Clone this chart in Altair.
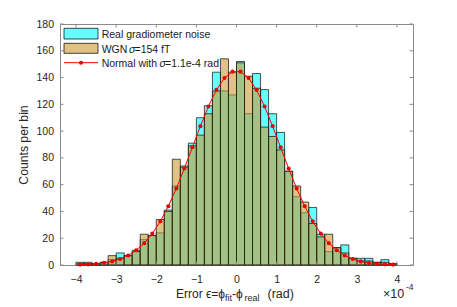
import altair as alt
import pandas as pd

# ---- data (x in units of 1e-4 rad) ----
bin_start = [-4.0, -3.8, -3.6, -3.4, -3.2, -3.0, -2.8, -2.6, -2.4, -2.2,
             -2.0, -1.8, -1.6, -1.4, -1.2, -1.0, -0.8, -0.6, -0.4, -0.2,
             0.0, 0.2, 0.4, 0.6, 0.8, 1.0, 1.2, 1.4, 1.6, 1.8,
             2.0, 2.2, 2.4, 2.6, 2.8, 3.0, 3.2, 3.4, 3.6, 3.8]
bin_end = [-3.8, -3.6, -3.4, -3.2, -3.0, -2.8, -2.6, -2.4, -2.2, -2.0,
           -1.8, -1.6, -1.4, -1.2, -1.0, -0.8, -0.6, -0.4, -0.2, 0.0,
           0.2, 0.4, 0.6, 0.8, 1.0, 1.2, 1.4, 1.6, 1.8, 2.0,
           2.2, 2.4, 2.6, 2.8, 3.0, 3.2, 3.4, 3.6, 3.8, 4.0]
real_counts = [2, 2, 1, 2, 4, 9, 7, 11, 19, 22,
               24, 41, 59, 74, 91, 110, 119, 144, 130, 127,
               152, 113, 143, 131, 113, 99, 70, 51, 39, 43,
               23, 10, 13, 15, 5, 5, 5, 2, 4, 1]
wgn_counts = [1, 1, 1, 2, 7, 5, 7, 10, 23, 22,
              34, 40, 79, 73, 89, 97, 113, 130, 154, 144,
              151, 141, 132, 103, 96, 86, 70, 59, 47, 31,
              21, 23, 13, 9, 5, 3, 3, 2, 2, 1]
fit_x = [-3.9, -3.7, -3.5, -3.3, -3.1, -2.9, -2.7, -2.5, -2.3, -2.1,
         -1.9, -1.7, -1.5, -1.3, -1.1, -0.9, -0.7, -0.5, -0.3, -0.1,
         0.1, 0.3, 0.5, 0.7, 0.9, 1.1, 1.3, 1.5, 1.7, 1.9,
         2.1, 2.3, 2.5, 2.7, 2.9, 3.1, 3.3, 3.5, 3.7, 3.9]
fit_y = [0.3, 0.5, 0.9, 1.6, 2.7, 4.5, 7.1, 11.0, 16.3, 23.4,
         32.6, 43.9, 57.2, 72.1, 87.9, 103.7, 118.4, 130.8, 139.7, 144.4,
         144.4, 139.7, 130.8, 118.4, 103.7, 87.9, 72.1, 57.2, 43.9, 32.6,
         23.4, 16.3, 11.0, 7.1, 4.5, 2.7, 1.6, 0.9, 0.5, 0.3]
x_ticks = [-4, -3, -2, -1, 0, 1, 2, 3, 4]
y_ticks = [0, 20, 40, 60, 80, 100, 120, 140, 160, 180]

W, H = 353, 241
FONT = "Liberation Sans"
TXT = "#262626"
FRAME = "#8a8a8a"
CYAN = "#00ffff"
TAN = "#cc9933"
EDGE = "#1a1a1a"

bars = pd.DataFrame({"start": bin_start, "end": bin_end,
                     "real": real_counts, "wgn": wgn_counts})
fit = pd.DataFrame({"x": fit_x, "y": fit_y})
xt = pd.DataFrame({"v": x_ticks})
yt = pd.DataFrame({"v": y_ticks})
one = pd.DataFrame({"k": [0]})

xs = alt.Scale(domain=[-4.4, 4.4], nice=False, zero=False)
ys = alt.Scale(domain=[0, 180], nice=False)

xaxis = alt.Axis(values=x_ticks, title=None, labelPadding=9)
yaxis = alt.Axis(values=y_ticks, title="Counts per bin", labelPadding=6.5,
                 titleFontSize=12.2, titlePadding=5)

real_layer = alt.Chart(bars).mark_rect(
    fill=CYAN, fillOpacity=0.6, stroke=EDGE, strokeOpacity=0.75, strokeWidth=1
).encode(
    x=alt.X("start:Q", scale=xs, axis=xaxis), x2="end:Q",
    y=alt.Y("real:Q", scale=ys, axis=yaxis), y2=alt.datum(0),
)
wgn_layer = alt.Chart(bars).mark_rect(
    fill=TAN, fillOpacity=0.6, stroke=EDGE, strokeOpacity=0.75, strokeWidth=1
).encode(
    x=alt.X("start:Q", scale=xs, axis=xaxis), x2="end:Q",
    y=alt.Y("wgn:Q", scale=ys, axis=yaxis), y2=alt.datum(0),
)
fit_line = alt.Chart(fit).mark_line(color="#ff0000", strokeWidth=1).encode(
    x=alt.X("x:Q", scale=xs, axis=xaxis), y=alt.Y("y:Q", scale=ys, axis=yaxis))
fit_pts = alt.Chart(fit).mark_circle(color="#ee0000", opacity=1, size=17).encode(
    x=alt.X("x:Q", scale=xs, axis=xaxis), y=alt.Y("y:Q", scale=ys, axis=yaxis))

TL = 3.5
tick_layers = [
    alt.Chart(xt).mark_rule(color=FRAME, strokeWidth=1).encode(
        x=alt.X("v:Q", scale=xs, axis=xaxis), y=alt.value(H), y2=alt.value(H - TL)),
    alt.Chart(xt).mark_rule(color=FRAME, strokeWidth=1).encode(
        x=alt.X("v:Q", scale=xs, axis=xaxis), y=alt.value(0), y2=alt.value(TL)),
    alt.Chart(yt).mark_rule(color=FRAME, strokeWidth=1).encode(
        y=alt.Y("v:Q", scale=ys, axis=yaxis), x=alt.value(0), x2=alt.value(TL)),
    alt.Chart(yt).mark_rule(color=FRAME, strokeWidth=1).encode(
        y=alt.Y("v:Q", scale=ys, axis=yaxis), x=alt.value(W), x2=alt.value(W - TL)),
]

# ---- legend ----
def patch(color, y0, y1):
    return alt.Chart(one).mark_rect(fill=color, fillOpacity=0.6, stroke=EDGE,
                                    strokeOpacity=0.8, strokeWidth=1).encode(
        x=alt.value(4), x2=alt.value(38), y=alt.value(y0), y2=alt.value(y1))

def txt(s, x, y, size=10.3, italic=False, align="left", color="#1a1a1a"):
    kw = dict(font=FONT, fontSize=size, color=color, align=align,
              baseline="alphabetic", text=s)
    if italic:
        kw["fontStyle"] = "italic"
    return alt.Chart(one).mark_text(**kw).encode(x=alt.value(x), y=alt.value(y))

legend = [
    patch(CYAN, 4.3, 15),
    patch(TAN, 19.3, 29.3),
    alt.Chart(one).mark_rule(color="#ff0000", strokeWidth=1).encode(
        x=alt.value(4), x2=alt.value(38), y=alt.value(38.7)),
    alt.Chart(one).mark_circle(color="#ee0000", opacity=1, size=17).encode(
        x=alt.value(21), y=alt.value(38.7)),
    txt("Real gradiometer noise", 41.7, 13.7, size=10.5),
    txt("WGN", 41.7, 28.7, size=10.5),
    txt("σ", 69, 28.7, size=10.5, italic=True),
    txt("=154 fT", 74.5, 28.7, size=10.5),
    txt("Normal with", 41.7, 42.7, size=10.5),
    txt("σ", 99.5, 42.7, size=10.5, italic=True),
    txt("=1.1e-4 rad", 105, 42.7, size=10.5),
]

# ---- x title pieces & exponent (plot-area pixel offsets) ----
BY = 273.5
xtitle = [
    txt("Error", 116, BY, size=12, color=TXT),
    txt("ϵ=ϕ", 146, BY, size=12, color=TXT),
    txt("fit", 165, BY + 3.5, size=9, color=TXT),
    txt("-ϕ", 172, BY, size=12, color=TXT),
    txt("real", 184.5, BY + 3.5, size=9, color=TXT),
    txt("(rad)", 207.5, BY, size=12.5, color=TXT),
    txt("×10", 323, 274, size=12.5, color=TXT),
    txt("-4", 346, 266, size=8.5, color=TXT),
]

chart = alt.layer(
    real_layer, wgn_layer, fit_line, fit_pts, *tick_layers, *legend, *xtitle
).properties(
    width=W, height=H,
    autosize=alt.AutoSizeParams(type="none"),
    padding={"left": 52, "top": 16, "right": 36, "bottom": 38},
    background="white",
).configure_view(
    stroke=FRAME, strokeWidth=1
).configure_axis(
    domain=False, ticks=False, grid=False, labelOverlap=False, labelFlush=False,
    labelFont=FONT, labelFontSize=10.5, labelColor=TXT,
    titleFont=FONT, titleFontWeight="normal", titleColor=TXT,
)

chart.save("out.html", embed_options={"renderer": "svg", "actions": False})
